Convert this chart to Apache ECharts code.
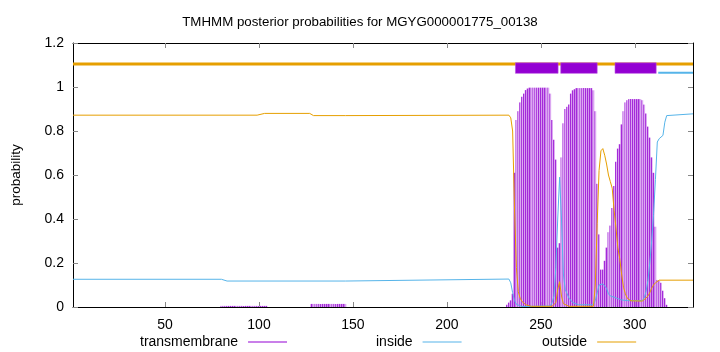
<!DOCTYPE html>
<html><head><meta charset="utf-8">
<script src="https://cdn.jsdelivr.net/npm/echarts@6/dist/echarts.min.js"></script>
<style>html,body{margin:0;padding:0;background:#fff}#c{width:720px;height:352px}</style>
</head><body><div id="c"></div>
<script>
const titleText = 'TMHMM posterior probabilities for MGYG000001775_00138';
const xTicks = [50, 100, 150, 200, 250, 300];
const seqLength = 331;

// transmembrane posterior per residue [residue, probability]
const tmProb = [
  [80,0.005],[81,0.005],[82,0.005],[83,0.005],[84,0.005],[85,0.005],[86,0.005],[87,0.005],[88,0.005],[89,0.005],
  [90,0.005],[91,0.005],[92,0.005],[93,0.005],[94,0.005],[95,0.005],[96,0.005],[97,0.005],[98,0.005],[99,0.005],
  [100,0.005],[101,0.005],[102,0.005],[103,0.005],[104,0.005],
  [128,0.014],[129,0.014],[130,0.014],[131,0.014],[132,0.014],[133,0.014],[134,0.014],[135,0.014],[136,0.014],[137,0.014],
  [138,0.014],[139,0.014],[140,0.014],[141,0.014],[142,0.014],[143,0.014],[144,0.014],[145,0.014],[146,0.014],
  [232,0.01],[233,0.02],[234,0.03],[235,0.06],[236,0.61],[237,0.85],[238,0.89],[239,0.93],[240,0.956],[241,0.97],
  [242,0.986],[243,0.993],[244,0.997],[245,0.997],[246,0.997],[247,0.997],[248,0.997],[249,0.997],[250,0.997],[251,0.997],
  [252,0.997],[253,0.997],[254,0.997],[255,0.97],[256,0.85],[257,0.76],[258,0.67],[259,0.27],[260,0.29],[261,0.68],
  [262,0.835],[263,0.9],[264,0.91],[265,0.92],[266,0.97],[267,0.985],[268,0.99],[269,0.995],[270,0.995],[271,0.995],
  [272,0.995],[273,0.995],[274,0.995],[275,0.995],[276,0.995],[277,0.995],[278,0.985],[279,0.89],[280,0.56],[281,0.33],
  [282,0.17],[283,0.17],[284,0.21],[285,0.27],[286,0.34],[287,0.37],[288,0.45],[289,0.55],[290,0.66],[291,0.72],
  [292,0.74],[293,0.83],[294,0.89],[295,0.93],[296,0.94],[297,0.945],[298,0.945],[299,0.945],[300,0.945],[301,0.945],
  [302,0.945],[303,0.945],[304,0.94],[305,0.92],[306,0.88],[307,0.82],[308,0.77],[309,0.68],[310,0.61],[311,0.365],
  [312,0.123],[313,0.12],[314,0.11],[315,0.074],[316,0.04],[317,0.01]
];

// inside posterior [residue, probability]
const insideProb = [
  [1,0.126],[80,0.126],[83,0.118],[146,0.118],[147,0.127],[233,0.127],[234,0.11],[235,0.065],[236,0.03],[237,0.012],
  [238,0.005],[240,0.002],[255,0.005],[256,0.02],[257,0.05],[258,0.18],[259,0.4],[260,0.59],[261,0.4],[262,0.15],
  [263,0.08],[264,0.06],[265,0.04],[267,0.02],[270,0.01],[278,0.01],[279,0.03],[280,0.064],[281,0.1],[282,0.108],
  [283,0.105],[285,0.085],[286,0.06],[287,0.05],[289,0.045],[291,0.038],[293,0.032],[296,0.029],[304,0.029],[305,0.04],
  [306,0.07],[307,0.12],[308,0.2],[309,0.3],[310,0.42],[311,0.58],[312,0.75],[313,0.765],[314,0.77],[315,0.78],
  [316,0.84],[317,0.87],[318,0.878],[331,0.878]
];

// outside posterior [residue, probability]
const outsideProb = [
  [1,0.872],[99,0.872],[103,0.88],[127,0.88],[129,0.87],[146,0.87],[147,0.872],[233,0.872],[234,0.86],[235,0.8],
  [236,0.45],[237,0.18],[238,0.07],[239,0.04],[240,0.025],[242,0.01],[245,0.003],[256,0.003],[257,0.006],[258,0.02],
  [259,0.08],[260,0.115],[261,0.05],[262,0.015],[263,0.006],[265,0.003],[278,0.003],[279,0.1],[280,0.38],[281,0.62],
  [282,0.71],[283,0.72],[284,0.69],[285,0.65],[286,0.6],[287,0.57],[288,0.54],[289,0.44],[290,0.36],[291,0.27],
  [292,0.22],[293,0.15],[294,0.09],[295,0.06],[296,0.04],[298,0.028],[304,0.027],[305,0.035],[306,0.04],[307,0.05],
  [308,0.065],[309,0.085],[310,0.1],[311,0.11],[312,0.118],[313,0.122],[331,0.122]
];

// predicted topology segments [start, end]
const tmSegments = [[236.5, 259.2], [260.6, 280], [289.5, 311.4]];
const insideSegments = [[312.5, 331]];
const outsideSegments = [[1, 331]];

const PURPLE = '#9400d3', BLUE = '#56b4e9', ORANGE = '#e69f00';
const FONT = 'Liberation Sans, Arial, sans-serif';

const chart = echarts.init(document.getElementById('c'), null, {renderer: 'canvas'});

function bandRenderer(level, h, color) {
  return function (params, api) {
    const p0 = api.coord([api.value(0), level]);
    const p1 = api.coord([api.value(1), level]);
    return {type: 'rect', shape: {x: p0[0], y: p0[1] - h / 2, width: p1[0] - p0[0], height: h}, style: {fill: color}};
  };
}

function legendFor(name, color, left) {
  return {data: [{name: name, itemStyle: {color: color}}], left: left, top: 330, align: 'right',
          icon: 'rect', itemWidth: 39, itemHeight: 1, selectedMode: false,
          textStyle: {fontFamily: FONT, fontSize: 14, color: '#000', padding: [0, 5, 0, 0]}};
}

const tickStyle = {color: '#888', width: 1};
const option = {
  animation: false,
  backgroundColor: '#fff',
  title: {text: titleText, left: 'center', top: 11, textStyle: {fontFamily: FONT, fontSize: 13.3, fontWeight: 'normal', color: '#000'}},
  grid: {left: 73, right: 27, top: 43, bottom: 45},
  xAxis: [
    {type: 'value', min: 1, max: seqLength, position: 'bottom',
     axisLine: {show: true, onZero: false, lineStyle: {color: '#000', width: 1}},
     axisTick: {show: true, inside: true, length: 5, customValues: xTicks, lineStyle: tickStyle},
     axisLabel: {customValues: xTicks, color: '#000', fontSize: 14, fontFamily: FONT, margin: 11},
     splitLine: {show: false}},
    {type: 'value', min: 1, max: seqLength, position: 'top',
     axisLine: {show: true, onZero: false, lineStyle: {color: '#000', width: 1}},
     axisTick: {show: true, inside: true, length: 5, customValues: xTicks, lineStyle: tickStyle},
     axisLabel: {show: false}, splitLine: {show: false}}
  ],
  yAxis: [
    {type: 'value', min: 0, max: 1.2, interval: 0.2,
     name: 'probability', nameLocation: 'middle', nameGap: 50,
     nameTextStyle: {fontFamily: FONT, fontSize: 13.5, color: '#000'},
     axisLine: {show: true, onZero: false, lineStyle: {color: '#000', width: 1}},
     axisTick: {show: true, inside: true, length: 5, lineStyle: tickStyle},
     axisLabel: {color: '#000', fontSize: 14, fontFamily: FONT, margin: 9},
     splitLine: {show: false}},
    {type: 'value', min: 0, max: 1.2, interval: 0.2, position: 'right',
     axisLine: {show: true, onZero: false, lineStyle: {color: '#000', width: 1}},
     axisTick: {show: true, inside: true, length: 5, lineStyle: tickStyle},
     axisLabel: {show: false}, splitLine: {show: false}}
  ],
  legend: [
    legendFor('transmembrane', PURPLE, 135),
    legendFor('inside', BLUE, 371),
    legendFor('outside', ORANGE, 537)
  ],
  series: [
    {name: 'transmembrane', type: 'bar', data: tmProb, barWidth: 1.88, z: 1,
     itemStyle: {color: new echarts.graphic.LinearGradient(0, 0, 1, 0, [
       {offset: 0, color: '#a42ad9'}, {offset: 0.5, color: '#a42ad9'},
       {offset: 0.5, color: '#dba8f1'}, {offset: 1, color: '#dba8f1'}])}},
    {name: 'inside', type: 'line', data: insideProb, showSymbol: false, z: 3,
     lineStyle: {color: BLUE, width: 1}, itemStyle: {color: BLUE}},
    {name: 'outside', type: 'line', data: outsideProb, showSymbol: false, z: 4,
     lineStyle: {color: ORANGE, width: 1}, itemStyle: {color: ORANGE}},
    {name: 'outsideTop', type: 'custom', data: outsideSegments, encode: {x: [0, 1]}, z: 5,
     renderItem: bandRenderer(1.105, 3, ORANGE)},
    {name: 'insideTop', type: 'custom', data: insideSegments, encode: {x: [0, 1]}, z: 5,
     renderItem: bandRenderer(1.065, 2, BLUE)},
    {name: 'tmTop', type: 'custom', data: tmSegments, encode: {x: [0, 1]}, z: 6,
     renderItem: function (params, api) {
       const a = api.coord([api.value(0), 1.11]);
       const b = api.coord([api.value(1), 1.062]);
       return {type: 'rect', shape: {x: a[0], y: a[1], width: b[0] - a[0], height: b[1] - a[1]},
               style: {fill: PURPLE, stroke: '#b84fe0', lineWidth: 0.6}};
     }}
  ]
};
chart.setOption(option);
</script>
</body></html>
